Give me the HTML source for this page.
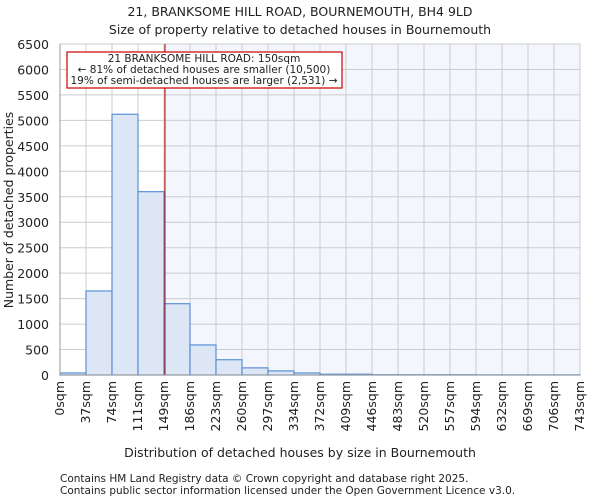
<!DOCTYPE html>
<html><head><meta charset="utf-8"><style>
body{margin:0;background:#fff;font-family:"DejaVu Sans","Liberation Sans",sans-serif}
svg text{font-family:"DejaVu Sans","Liberation Sans",sans-serif;fill:#222}
</style></head><body>
<svg width="600" height="500" id="c">
<text x="300" y="16" text-anchor="middle" font-size="12.5">21, BRANKSOME HILL ROAD, BOURNEMOUTH, BH4 9LD</text>
<text x="300" y="34" text-anchor="middle" font-size="12.5">Size of property relative to detached houses in Bournemouth</text>
<text x="300" y="457" text-anchor="middle" font-size="12.5">Distribution of detached houses by size in Bournemouth</text>
<text transform="translate(13,210) rotate(-90)" text-anchor="middle" font-size="12.5">Number of detached properties</text>
<text x="60" y="482" font-size="10.5">Contains HM Land Registry data © Crown copyright and database right 2025.</text>
<text x="60" y="494" font-size="10.5">Contains public sector information licensed under the Open Government Licence v3.0.</text>
</svg>
<script>
const xTicks=["0sqm","37sqm","74sqm","111sqm","149sqm","186sqm","223sqm","260sqm","297sqm","334sqm","372sqm","409sqm","446sqm","483sqm","520sqm","557sqm","594sqm","632sqm","669sqm","706sqm","743sqm"];
const counts=[40,1650,5120,3600,1400,590,300,140,80,40,15,15,5,5,5,5,3,3,3,3];
const yTicks=[0,500,1000,1500,2000,2500,3000,3500,4000,4500,5000,5500,6000,6500];
const binW=37.15, xMax=743, yMax=6500, propSize=150;
const L=60,R=580,T=44,B=375;
const sx=v=>L+v/xMax*(R-L), sy=v=>B-v/yMax*(B-T);
const svg=document.getElementById('c'),NS='http://www.w3.org/2000/svg';
function mk(t,a,p){const e=document.createElementNS(NS,t);for(const k in a)e.setAttribute(k,a[k]);(p||svg).appendChild(e);return e;}
const bg=mk('rect',{x:sx(propSize),y:T,width:R-sx(propSize),height:B-T,fill:'#f3f6fd'});


yTicks.forEach(v=>{const l=mk('line',{x1:L,x2:R,y1:sy(v),y2:sy(v),stroke:'#ccc'});


const t=mk('text',{x:L-11,y:sy(v)+5,'text-anchor':'end','font-size':'12.5'});t.textContent=v;

});
xTicks.forEach((s,i)=>{const x=L+i*(R-L)/(xTicks.length-1);
const l=mk('line',{x1:x,x2:x,y1:T,y2:B,stroke:'#ccc'});


const t=mk('text',{transform:`translate(${x+4},${B+6}) rotate(-90)`,'text-anchor':'end','font-size':'12.5'});t.textContent=s;

});
counts.forEach((c,i)=>{const x0=sx(i*binW),x1=sx((i+1)*binW);
const r=mk('rect',{x:x0,y:sy(c),width:x1-x0,height:B-sy(c),fill:'#dce6f4',stroke:'#5b8fd6','stroke-width':1.2});

});
const pl=mk('line',{x1:sx(propSize),x2:sx(propSize),y1:T,y2:B,stroke:'#b00','stroke-width':1});


const g=mk('g',{});


mk('rect',{x:67,y:52,width:275,height:36,fill:'#fff',stroke:'#c00','stroke-width':1.2},g);
[["21 BRANKSOME HILL ROAD: 150sqm",62],["← 81% of detached houses are smaller (10,500)",73],["19% of semi-detached houses are larger (2,531) →",84]].forEach(([s,y])=>{
const t=mk('text',{x:204,y:y,'text-anchor':'middle','font-size':'10.5'},g);t.textContent=s;});
mk('line',{x1:L,x2:L,y1:T,y2:B,stroke:'#999'});
mk('line',{x1:L,x2:R,y1:B,y2:B,stroke:'#999'});
</script>
</body></html>
